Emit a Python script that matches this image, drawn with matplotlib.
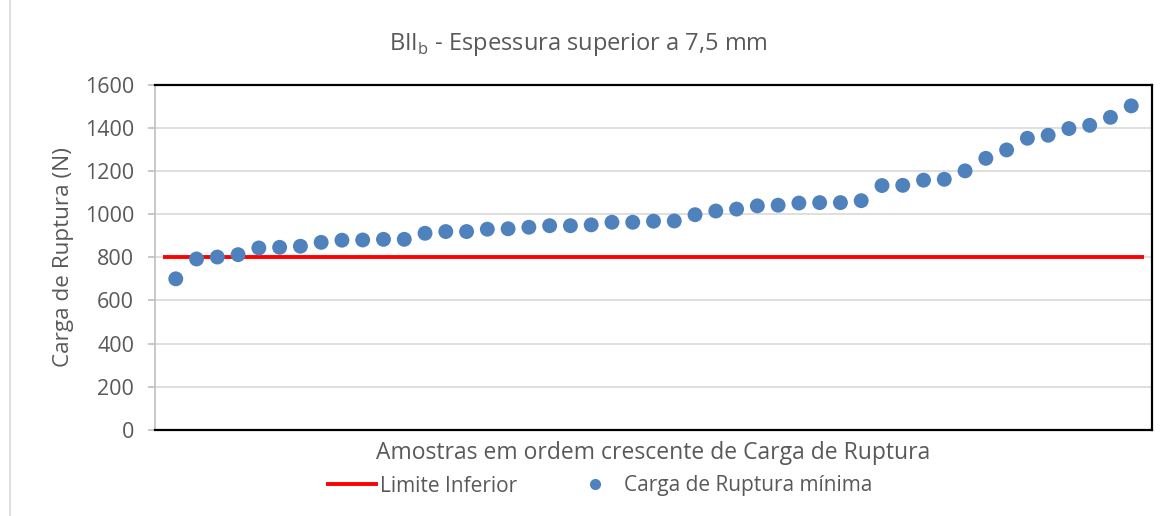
import matplotlib
matplotlib.use("Agg")
import matplotlib.pyplot as plt
from matplotlib.lines import Line2D
import numpy as np

# ---- data ----
carga = [700, 792, 801, 812, 843, 846, 851, 869, 879, 880,
         883, 883, 911, 919, 919, 930, 932, 939, 946, 946,
         950, 962, 962, 967, 968, 997, 1014, 1023, 1038, 1041,
         1051, 1053, 1053, 1062, 1132, 1133, 1157, 1161, 1200, 1258,
         1297, 1351, 1365, 1396, 1411, 1448, 1501]
limite_inferior = 800
yticks = [0, 200, 400, 600, 800, 1000, 1200, 1400, 1600]
title_main = "BII"
title_sub = "b"
title_rest = " - Espessura superior a 7,5 mm"
ylabel = "Carga de Ruptura (N)"
xlabel = "Amostras em ordem crescente de Carga de Ruptura"
leg_line = "Limite Inferior"
leg_pts = "Carga de Ruptura mínima"

plt.rcParams['font.family'] = ['Open Sans', 'DejaVu Sans']
plt.rcParams['mathtext.fontset'] = 'custom'
plt.rcParams['mathtext.rm'] = 'Open Sans'

W, H = 1170, 516
fig = plt.figure(figsize=(W / 100, H / 100), dpi=100)
ax = fig.add_axes([155 / W, 1 - 430 / H, (1152 - 155) / W, (430 - 84.5) / H])

txt = '#595959'
n = len(carga)
x = np.arange(1, n + 1)

ax.set_xlim(0, n + 1)
ax.set_ylim(0, 1600)
ax.set_yticks(yticks)
ax.set_xticks([])
ax.grid(axis='y', color='#D9D9D9', linewidth=1.2)
ax.set_axisbelow(True)

ax.hlines(limite_inferior, 0.4, n + 0.6, color='#FF0000', linewidth=2.8, zorder=2)
ax.scatter(x, carga, s=115, color='#4F81BD', edgecolors='none', zorder=3)

for s in ['top', 'right', 'bottom']:
    ax.spines[s].set_color('black')
    ax.spines[s].set_linewidth(1.6)
ax.spines['left'].set_color('#BFBFBF')
ax.spines['left'].set_linewidth(1.2)
ax.tick_params(axis='y', colors='#BFBFBF', length=5, width=1.2, labelcolor=txt,
               labelsize=15.5, pad=10)

ax.set_ylabel(ylabel, fontsize=16.2, color=txt, labelpad=8)
ax.set_xlabel(xlabel, fontsize=16.5, color=txt, labelpad=8)

fig.text(578 / W, 1 - 45 / H, f"{title_main}$_\\mathrm{{{title_sub}}}$" + title_rest,
         ha='center', va='center', fontsize=17, color=txt)

handles = [Line2D([], [], color='#FF0000', linewidth=2.8),
           Line2D([], [], marker='o', linestyle='none', markersize=8,
                  markerfacecolor='#4F81BD', markeredgecolor='none')]
fig.legend(handles, [leg_line, leg_pts], loc='center',
           bbox_to_anchor=(600 / W, 1 - 486 / H), ncol=2, frameon=False,
           fontsize=15, labelcolor=txt, handlelength=2.3, handletextpad=0.2,
           columnspacing=2.6)

fig.add_artist(Line2D([10 / W, 10 / W], [0, 1], color='#D9D9D9', linewidth=1.2,
                      transform=fig.transFigure))

fig.savefig('out.png', dpi=100)
